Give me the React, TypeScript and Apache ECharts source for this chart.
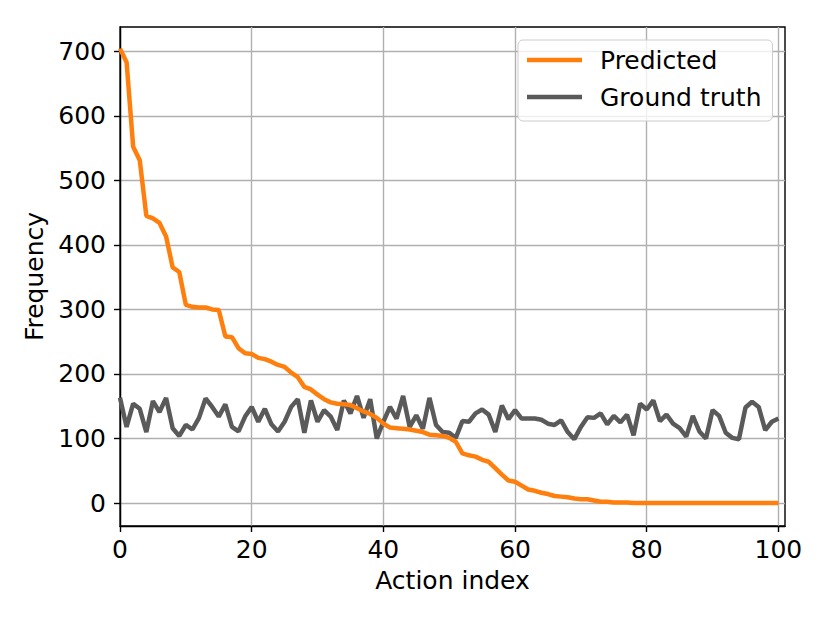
import React, { useEffect, useRef } from "react";
import * as echarts from "echarts";

const predicted: number[] = [
  704, 683, 552, 531, 445, 441, 434, 413, 365, 358,
  307, 304, 303, 303, 300, 299, 258, 257, 240, 232,
  231, 225, 223, 219, 214, 211, 202, 195, 180, 176,
  168, 161, 156, 154, 153, 152, 147, 142, 138, 132,
  123, 117, 116, 115, 114, 112, 110, 106, 105, 104,
  101, 95, 77, 74, 72, 67, 64, 54, 44, 35,
  33, 27, 21, 19, 16, 14, 11, 10, 9, 7,
  6, 6, 4, 2, 2, 1, 1, 1, 0, 0,
  0, 0, 0, 0, 0, 0, 0, 0, 0, 0,
  0, 0, 0, 0, 0, 0, 0, 0, 0, 0,
  0,
];

const groundTruth: number[] = [
  163, 118, 154, 146, 110, 158, 141, 163, 116, 104,
  121, 114, 132, 162, 149, 134, 153, 118, 111, 134,
  149, 126, 146, 122, 111, 126, 149, 161, 109, 159,
  126, 144, 134, 113, 159, 139, 166, 132, 161, 100,
  126, 149, 131, 166, 118, 136, 115, 163, 121, 110,
  109, 101, 127, 126, 139, 145, 137, 110, 151, 130,
  144, 131, 131, 131, 129, 123, 121, 128, 110, 99,
  118, 133, 132, 139, 122, 135, 125, 137, 105, 154,
  145, 159, 127, 137, 123, 116, 103, 135, 111, 100,
  144, 135, 109, 101, 99, 148, 157, 149, 113, 126,
  131,
];

const yTicks: number[] = [0, 100, 200, 300, 400, 500, 600, 700];
const xTicks: number[] = [0, 20, 40, 60, 80, 100];

const FONT = "DejaVu Sans";
const FS = 25;

export default function App() {
  const ref = useRef<HTMLDivElement>(null);
  useEffect(() => {
    if (!ref.current) return;
    const chart = echarts.init(ref.current, undefined, { renderer: "svg" });
    const toPairs = (arr: number[]) => arr.map((v, i) => [i, v]);
    chart.setOption({
      animation: false,
      backgroundColor: "#ffffff",
      textStyle: { fontFamily: FONT },
      grid: {
        left: 120,
        top: 27,
        right: 45,
        bottom: 97,
        show: true,
        borderColor: "#000000",
        borderWidth: 1.4,
        backgroundColor: "transparent",
      },
      legend: {
        orient: "vertical",
        left: 518,
        top: 40,
        icon: "rect",
        itemWidth: 55,
        itemHeight: 4.5,
        itemGap: 9,
        padding: [6, 11, 10, 9],
        backgroundColor: "rgba(255,255,255,0.8)",
        borderColor: "#cccccc",
        borderWidth: 1,
        borderRadius: 5,
        textStyle: {
          fontFamily: FONT,
          fontSize: FS,
          color: "#000000",
          lineHeight: 28,
          padding: [0, 0, 0, 13],
        },
        data: ["Predicted", "Ground truth"],
      },
      xAxis: {
        type: "value",
        min: 0,
        max: 101,
        interval: 20,
        name: "Action index",
        nameLocation: "middle",
        nameGap: 42,
        nameTextStyle: { fontFamily: FONT, fontSize: FS, color: "#000000" },
        axisLine: { show: true, onZero: false, lineStyle: { color: "#000000", width: 1.4 } },
        axisTick: {
          show: true,
          inside: false,
          length: 6,
          customValues: xTicks,
          lineStyle: { color: "#000000", width: 1.4 },
        },
        axisLabel: {
          fontFamily: FONT,
          fontSize: FS,
          color: "#000000",
          margin: 11,
          customValues: xTicks,
        },
        splitLine: { show: true, lineStyle: { color: "#b0b0b0", width: 1.4 } },
      },
      yAxis: {
        type: "value",
        min: -35.5,
        max: 737.5,
        splitNumber: 7,
        name: "Frequency",
        nameLocation: "middle",
        nameGap: 70,
        nameTextStyle: { fontFamily: FONT, fontSize: FS, color: "#000000" },
        axisLine: { show: true, onZero: false, lineStyle: { color: "#000000", width: 1.4 } },
        axisTick: {
          show: true,
          inside: false,
          length: 6,
          customValues: yTicks,
          lineStyle: { color: "#000000", width: 1.4 },
        },
        axisLabel: {
          fontFamily: FONT,
          fontSize: FS,
          color: "#000000",
          margin: 14,
          customValues: yTicks,
        },
        splitLine: { show: true, lineStyle: { color: "#b0b0b0", width: 1.4 } },
      },
      series: [
        {
          name: "Predicted",
          type: "line",
          data: toPairs(predicted),
          showSymbol: false,
          symbol: "none",
          color: "#ff7f0e",
          lineStyle: { color: "#ff7f0e", width: 4.5 },
          z: 3,
        },
        {
          name: "Ground truth",
          type: "line",
          data: toPairs(groundTruth),
          showSymbol: false,
          symbol: "none",
          color: "#5a5a5a",
          lineStyle: { color: "#5a5a5a", width: 4.5 },
          z: 2,
        },
      ],
    });
    return () => chart.dispose();
  }, []);
  return (
    <div
      ref={ref}
      style={{ position: "absolute", left: 0, top: 0, width: 830, height: 623 }}
    />
  );
}
